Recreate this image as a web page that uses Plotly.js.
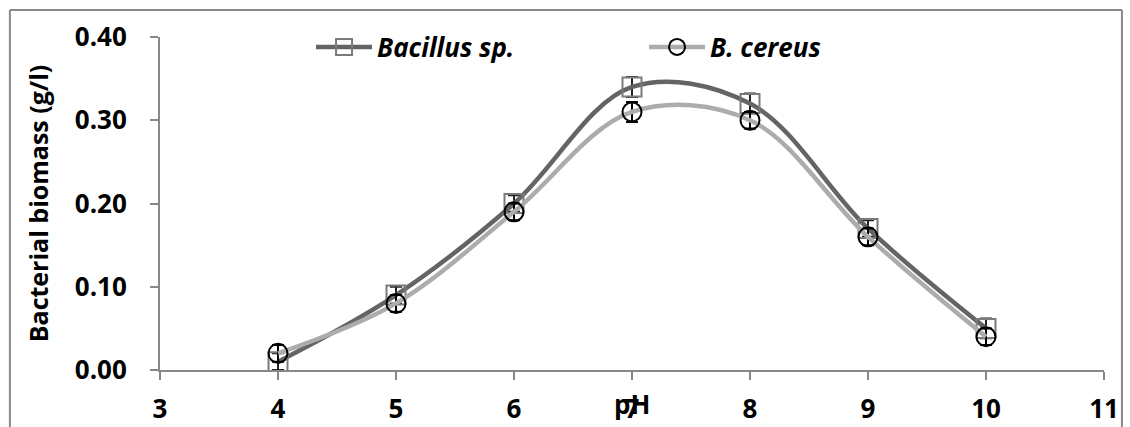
<!DOCTYPE html>
<html>
<head>
<meta charset="utf-8">
<script src="https://cdn.plot.ly/plotly-3.0.1.min.js"></script>
<style>html,body{margin:0;padding:0;background:#fff;}#chart{width:1130px;height:427px;}</style>
</head>
<body>
<div id="chart"></div>
<script>
const pH = [4, 5, 6, 7, 8, 9, 10];
const bacillus = [0.01, 0.09, 0.20, 0.34, 0.32, 0.17, 0.05];
const bacillusErr = [0.01, 0.01, 0.01, 0.012, 0.012, 0.01, 0.012];
const cereus = [0.02, 0.08, 0.19, 0.31, 0.30, 0.16, 0.04];
const cereusErr = [0.01, 0.01, 0.01, 0.012, 0.01, 0.01, 0.01];
const yTicks = [0, 0.1, 0.2, 0.3, 0.4];
const yTickText = ['0.00', '0.10', '0.20', '0.30', '0.40'];
const xTicks = [3, 4, 5, 6, 7, 8, 9, 10, 11];

const FONT = 'Open Sans, Lato, sans-serif';

const traces = [
  {
    x: pH, y: bacillus, name: '<b><i>Bacillus sp.</i></b>', type: 'scatter', mode: 'lines+markers',
    line: {shape: 'spline', smoothing: 1, color: '#646464', width: 4.5},
    marker: {symbol: 'square-open', size: 19, color: '#7a7a7a', line: {width: 2, color: '#7a7a7a'}},
    error_y: {type: 'data', array: bacillusErr, visible: true, color: '#222', thickness: 2, width: 6}
  },
  {
    x: pH, y: cereus, name: '<b><i>B. cereus</i></b>', type: 'scatter', mode: 'lines+markers',
    line: {shape: 'spline', smoothing: 1, color: '#acacac', width: 4.5},
    marker: {symbol: 'circle-open', size: 19, color: '#000', line: {width: 2, color: '#000'}},
    error_y: {type: 'data', array: cereusErr, visible: true, color: '#000', thickness: 2, width: 6}
  }
];

const layout = {
  width: 1130, height: 427,
  margin: {l: 160, r: 26, t: 37, b: 57},
  paper_bgcolor: '#fff', plot_bgcolor: '#fff',
  font: {family: FONT, color: '#000'},
  showlegend: true,
  legend: {
    orientation: 'h', x: 0.16, y: 0.97, xanchor: 'left', yanchor: 'middle',
    font: {family: FONT, size: 26, weight: 'bold', style: 'italic', color: '#000'},
    itemwidth: 56, entrywidth: 262, entrywidthmode: 'pixels', bgcolor: 'rgba(0,0,0,0)'
  },
  xaxis: {
    range: [3, 11], tickvals: xTicks, ticktext: xTicks.map(v => '<b>' + v + '</b>'),
    showgrid: false, zeroline: false, showline: true, linecolor: '#888', linewidth: 2,
    ticks: 'outside', ticklen: 8, tickcolor: '#888', tickwidth: 2, ticklabelstandoff: 7,
    tickfont: {family: FONT, size: 26, weight: 'bold', color: '#000'},
    fixedrange: true
  },
  yaxis: {
    range: [0, 0.4], tickvals: yTicks, ticktext: yTickText.map(v => '<b>' + v + '</b>'),
    showgrid: false, zeroline: false, showline: true, linecolor: '#888', linewidth: 2,
    ticks: 'outside', ticklen: 8, tickcolor: '#888', tickwidth: 2, ticklabelstandoff: 18,
    tickfont: {family: FONT, size: 26, weight: 'bold', color: '#000'},
    title: {text: '<b>Bacterial biomass (g/l)</b>', font: {family: FONT, size: 25, weight: 'bold', color: '#000'}, standoff: 19},
    fixedrange: true
  },
  annotations: [
    {text: '<b>pH</b>', x: 7, xref: 'x', y: -0.103, yref: 'paper', yanchor: 'middle', xanchor: 'center', showarrow: false,
     font: {family: FONT, size: 26, weight: 'bold', color: '#000'}}
  ],
  shapes: [
    {type: 'line', xref: 'paper', yref: 'paper', x0: -0.159, x1: -0.159, y0: 1.081, y1: -0.25, line: {color: '#888', width: 2}},
    {type: 'line', xref: 'paper', yref: 'paper', x0: -0.159, x1: 1.019, y0: 1.081, y1: 1.081, line: {color: '#888', width: 2}},
    {type: 'line', xref: 'paper', yref: 'paper', x0: 1.019, x1: 1.019, y0: 1.081, y1: -0.25, line: {color: '#888', width: 2}}
  ]
};

Plotly.newPlot('chart', traces, layout, {displayModeBar: false, staticPlot: true});
</script>
</body>
</html>
